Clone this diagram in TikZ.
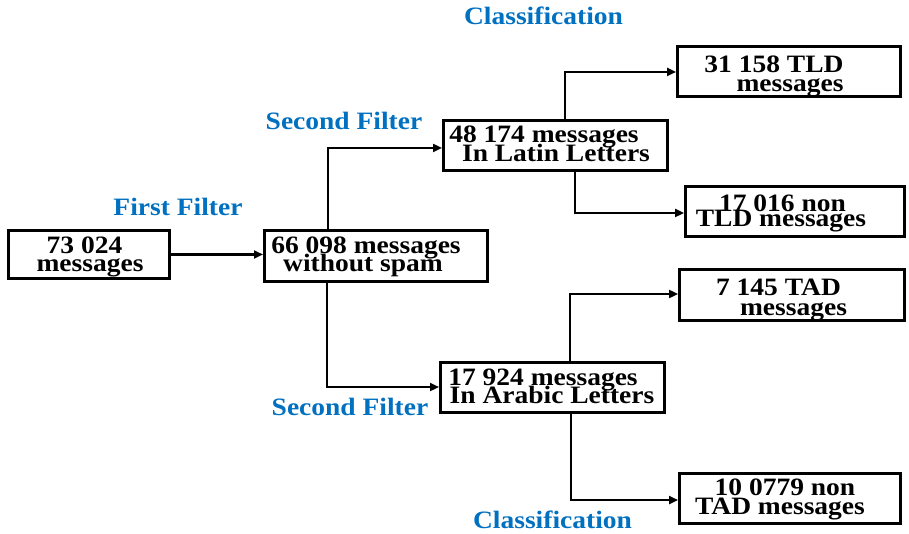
\documentclass[tikz,border=0pt]{standalone}
\usepackage{fontspec}
\setmainfont{Liberation Serif}[FakeStretch=1.1]
\usetikzlibrary{arrows.meta}
\definecolor{lblblue}{RGB}{0,112,192}
\tikzset{
  box/.style={draw=black, line width=3pt, inner sep=0pt, rectangle},
  txt/.style={font=\bfseries\fontsize{25}{25}\selectfont, text=black, inner sep=0pt, anchor=base},
  lbl/.style={font=\bfseries\fontsize{25}{25}\selectfont, text=lblblue, inner sep=0pt, anchor=base},
  arr/.style={line width=2.5pt, -{Triangle[length=9pt,width=8pt]}},
}
\begin{document}
\begin{tikzpicture}[x=1pt,y=-1pt]
\useasboundingbox (0,0) rectangle (909,534);
% boxes
\node[box, minimum width=161pt, minimum height=48pt] (A) at (89,254.5) {};
\node[box, minimum width=223pt, minimum height=51pt] (B) at (376,256) {};
\node[box, minimum width=224pt, minimum height=50pt] (C) at (555.5,145.5) {};
\node[box, minimum width=223pt, minimum height=50pt] (D) at (789,71.5) {};
\node[box, minimum width=219pt, minimum height=50pt] (E) at (795,211.5) {};
\node[box, minimum width=224pt, minimum height=50pt] (F) at (552.5,387.5) {};
\node[box, minimum width=225pt, minimum height=51pt] (G) at (792,295) {};
\node[box, minimum width=221pt, minimum height=50pt] (H) at (790,498.5) {};
% texts
\node[txt] (a1) at (84.5,254) {73 024};
\node[txt] (a2) at (90,272) {messages};
\node[txt] (b1) at (366,254) {66 098 messages};
\node[txt] (b2) at (363,272) {without spam};
\node[txt] (c1) at (544,143) {48 174 messages};
\node[txt] (c2) at (556,162) {In Latin Letters};
\node[txt] (d1) at (774,73) {31 158 TLD};
\node[txt] (d2) at (790,92) {messages};
\node[txt] (e1) at (782.5,212) {17 016 non};
\node[txt] (e2) at (781,227) {TLD messages};
\node[txt] (f1) at (543,385) {17 924 messages};
\node[txt] (f2) at (552,403) {In Arabic Letters};
\node[txt] (g1) at (778.5,295) {7 145 TAD};
\node[txt] (g2) at (793.5,315) {messages};
\node[txt] (h1) at (785,495) {10 0779 non};
\node[txt] (h2) at (780,514) {TAD messages};
% labels
\node[lbl] (l1) at (543.5,25) {Classification};
\node[lbl] (l2) at (344,130) {Second Filter};
\node[lbl] (l3) at (178,216) {First Filter};
\node[lbl] (l4) at (350,415) {Second Filter};
\node[lbl] (l5) at (552.5,528) {Classification};
% connector bends
\coordinate (bc) at (328,148);
\coordinate (bf) at (327,387);
\coordinate (cd) at (565,72);
\coordinate (ce) at (575,213);
\coordinate (fg) at (570,294);
\coordinate (fh) at (571,500);
% connectors
\draw[arr] (A.east) -- (A.east -| B.west);
\draw[arr] (B.north -| bc) -- (bc) -- (bc -| C.west);
\draw[arr] (B.south -| bf) -- (bf) -- (bf -| F.west);
\draw[arr] (C.north -| cd) -- (cd) -- (cd -| D.west);
\draw[arr] (C.south -| ce) -- (ce) -- (ce -| E.west);
\draw[arr] (F.north -| fg) -- (fg) -- (fg -| G.west);
\draw[arr] (F.south -| fh) -- (fh) -- (fh -| H.west);
\end{tikzpicture}
\end{document}
